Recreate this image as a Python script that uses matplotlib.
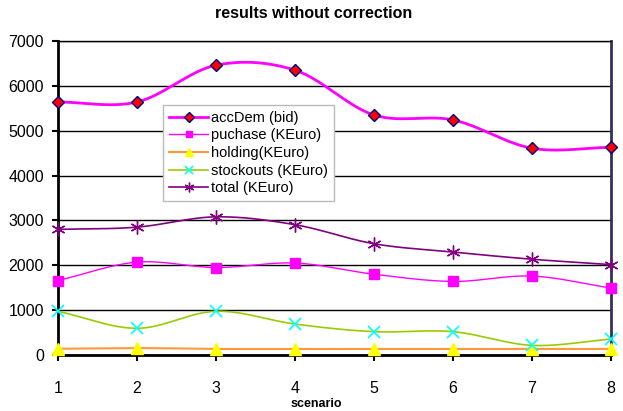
import numpy as np
import matplotlib
matplotlib.use("Agg")
import matplotlib.pyplot as plt

scenarios = [1, 2, 3, 4, 5, 6, 7, 8]
acc_dem = [5640, 5640, 6460, 6350, 5350, 5240, 4610, 4630]
purchase = [1660, 2070, 1950, 2050, 1800, 1640, 1760, 1490]
holding = [140, 155, 135, 135, 135, 135, 135, 135]
stockouts = [975, 595, 975, 690, 520, 520, 215, 355]
total = [2800, 2850, 3080, 2905, 2480, 2295, 2135, 2015]

labels = ["accDem (bid)", "puchase (KEuro)", "holding(KEuro)", "stockouts (KEuro)", "total (KEuro)"]
title = "results without correction"
xlabel = "scenario"

plt.rcParams['font.family'] = ['Liberation Sans', 'DejaVu Sans']


def smooth(x, y, n=30):
    # Catmull-Rom style smoothing similar to spreadsheet "smoothed line"
    x = np.asarray(x, float); y = np.asarray(y, float)
    px = np.concatenate([[2 * x[0] - x[1]], x, [2 * x[-1] - x[-2]]])
    py = np.concatenate([[2 * y[0] - y[1]], y, [2 * y[-1] - y[-2]]])
    xs, ys = [], []
    t = np.linspace(0, 1, n)
    for i in range(1, len(px) - 2):
        p0, p1, p2, p3 = [np.array([px[j], py[j]]) for j in range(i - 1, i + 3)]
        c1 = p1 + (p2 - p0) / 6
        c2 = p2 - (p3 - p1) / 6
        b = ((1 - t) ** 3)[:, None] * p1 + (3 * (1 - t) ** 2 * t)[:, None] * c1 + \
            (3 * (1 - t) * t ** 2)[:, None] * c2 + (t ** 3)[:, None] * p2
        xs.extend(b[:, 0]); ys.extend(b[:, 1])
    return np.array(xs), np.array(ys)


fig = plt.figure(figsize=(6.23, 4.11), dpi=100)
ax = fig.add_axes([58 / 623, 1 - 355 / 411, (611 - 58) / 623, (355 - 41) / 411])

series = [
    (acc_dem, dict(color='#FF00FF', lw=2.0), dict(marker='D', ms=6, mfc='#FF0000', mec='#000080', mew=1.0)),
    (purchase, dict(color='#FF00FF', lw=1.0), dict(marker='s', ms=7, mfc='#FF00FF', mec='#FF00FF', mew=1.0)),
    (holding, dict(color='#FF9933', lw=1.5), dict(marker='^', ms=8, mfc='#FFFF00', mec='#FFFF00', mew=1.0)),
    (stockouts, dict(color='#99CC00', lw=1.2), dict(marker='x', ms=8, mfc='none', mec='#00FFFF', mew=1.2)),
    (total, dict(color='#800080', lw=1.2), dict(marker=(6, 2, 0), ms=10, mfc='#800080', mec='#800080', mew=1.0)),
]
legend_ms = [5, 5, 6, 6, 7]

handles = []
for (vals, lkw, mkw), lab, lms in zip(series, labels, legend_ms):
    sx, sy = smooth(scenarios, vals)
    ax.plot(sx, sy, zorder=3, clip_on=False, **lkw)
    ax.plot(scenarios, vals, ls='none', zorder=4, clip_on=False, **mkw)
    mk = dict(mkw); mk['ms'] = lms
    h, = ax.plot([], [], label=lab, **lkw, **mk)
    handles.append(h)

ax.set_xlim(1, 8)
ax.set_ylim(0, 7000)
ax.set_xticks(scenarios)
ax.set_yticks(range(0, 7001, 1000))
ax.yaxis.grid(True, color='black', lw=1.0)
ax.set_axisbelow(True)
ax.tick_params(axis='both', labelsize=11.5, direction='out', length=4, width=1.5, color='black')
ax.tick_params(axis='x', pad=15)
ax.tick_params(axis='y', pad=6)
for s in ['left', 'bottom']:
    ax.spines[s].set_linewidth(2)
    ax.spines[s].set_color('black')
ax.spines['top'].set_linewidth(1)
ax.spines['right'].set_linewidth(2)
ax.spines['right'].set_color('#333355')

fig.text(314 / 623, 1 - 14 / 411, title, ha='center', va='center', fontsize=11.5, fontweight='bold')
fig.text(316 / 623, 1 - 404 / 411, xlabel, ha='center', va='center', fontsize=9, fontweight='bold')

leg = ax.legend(handles=handles, loc='upper left', bbox_to_anchor=((163 - 58) / 553, (355 - 105) / 314),
                fontsize=10.5, frameon=True, fancybox=False, edgecolor='#BBBBBB', framealpha=1,
                handlelength=2.7, handletextpad=0.2, borderpad=0.4, labelspacing=0.25, borderaxespad=0)
leg.get_frame().set_linewidth(1)

fig.savefig('out.png', dpi=100)
